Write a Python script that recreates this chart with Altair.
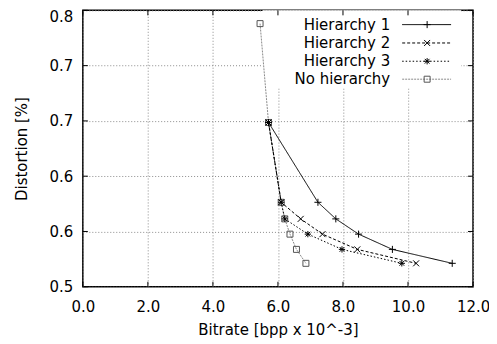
import altair as alt
import pandas as pd

# ---- data ----
series_names = ["Hierarchy 1", "Hierarchy 2", "Hierarchy 3", "No hierarchy"]

h1_bitrate = [5.71, 7.23, 7.78, 8.48, 9.52, 11.36]
h1_dist = [0.6486, 0.5764, 0.5614, 0.5476, 0.5338, 0.5212]

h2_bitrate = [5.71, 6.10, 6.70, 7.37, 8.44, 10.25]
h2_dist = [0.6486, 0.5764, 0.5614, 0.5476, 0.5338, 0.5212]

h3_bitrate = [5.71, 6.10, 6.21, 6.92, 7.97, 9.81]
h3_dist = [0.6486, 0.5764, 0.5614, 0.5476, 0.5338, 0.5212]

nh_bitrate = [5.45, 5.71, 6.10, 6.21, 6.37, 6.57, 6.86]
nh_dist = [0.738, 0.6486, 0.5764, 0.5614, 0.5476, 0.5338, 0.5212]

x_ticks = [0, 2, 4, 6, 8, 10, 12]
y_ticks = [0.5, 0.55, 0.6, 0.65, 0.7, 0.75]

FONT = "DejaVu Sans"
W, H = 391, 277

xs = alt.Scale(domain=[0, 12], nice=False, zero=False)
ys = alt.Scale(domain=[0.5, 0.75], nice=False, zero=False)

x_axis = alt.Axis(values=x_ticks, format=".1f", title="Bitrate [bpp x 10^-3]",
                  labelPadding=13, titlePadding=8, labelFlush=False)
y_axis = alt.Axis(values=y_ticks, format=".1f", title="Distortion [%]",
                  labelPadding=10, titlePadding=20, labelFlush=False,
                  labelOffset={"condition": {"test": "datum.value > 0.74", "value": 6},
                               "value": 0})

one = pd.DataFrame({"a": [0]})

layers = []

# legend background (opaque key)
layers.append(alt.Chart(one).mark_rect(fill="white").encode(
    x=alt.value(180), x2=alt.value(379), y=alt.value(0), y2=alt.value(78)))

# inside ticks on all four sides
xt = pd.DataFrame({"bitrate": x_ticks})
yt = pd.DataFrame({"distortion": y_ticks})
tick_style = dict(color="black", strokeWidth=1)
layers.append(alt.Chart(xt).mark_rule(**tick_style).encode(
    x=alt.X("bitrate:Q", scale=xs, axis=x_axis), y=alt.value(H), y2=alt.value(H - 5)))
layers.append(alt.Chart(xt).mark_rule(**tick_style).encode(
    x=alt.X("bitrate:Q", scale=xs, axis=x_axis), y=alt.value(0), y2=alt.value(5)))
layers.append(alt.Chart(yt).mark_rule(**tick_style).encode(
    y=alt.Y("distortion:Q", scale=ys, axis=y_axis), x=alt.value(0), x2=alt.value(5)))
layers.append(alt.Chart(yt).mark_rule(**tick_style).encode(
    y=alt.Y("distortion:Q", scale=ys, axis=y_axis), x=alt.value(W), x2=alt.value(W - 5)))

plus = "M-1,0H1M0,-1V1"
cross = "M-1,-1L1,1M-1,1L1,-1"
star = "M-1,0H1M0,-1V1M-0.75,-0.75L0.75,0.75M-0.75,0.75L0.75,-0.75"
square = "M-1,-1H1V1H-1Z"

styles = [
    dict(color="black", dash=[1, 0], shape=plus, mcolor="black", size=50),
    dict(color="black", dash=[3, 2], shape=cross, mcolor="black", size=36),
    dict(color="black", dash=[1.5, 2], shape=star, mcolor="black", size=40),
    dict(color="#8a8a8a", dash=[2, 1], shape=square, mcolor="#555555", size=36),
]
data = [
    (h1_bitrate, h1_dist),
    (h2_bitrate, h2_dist),
    (h3_bitrate, h3_dist),
    (nh_bitrate, nh_dist),
]

# draw no-hierarchy first so the others are on top
for idx in [3, 2, 1, 0]:
    bx, dy = data[idx]
    st = styles[idx]
    df = pd.DataFrame({"bitrate": bx, "distortion": dy})
    enc = dict(x=alt.X("bitrate:Q", scale=xs, axis=x_axis),
               y=alt.Y("distortion:Q", scale=ys, axis=y_axis))
    layers.append(alt.Chart(df).mark_line(
        color=st["color"], strokeDash=st["dash"], strokeWidth=1).encode(**enc))
    layers.append(alt.Chart(df).mark_point(
        shape=st["shape"], filled=False, stroke=st["mcolor"], strokeWidth=1,
        size=st["size"], opacity=1).encode(**enc))

# gnuplot-style key (text, then line sample with marker)
legend_y = [14.3, 32.7, 51, 69]
for i, name in enumerate(series_names):
    st = styles[i]
    yc = legend_y[i]
    layers.append(alt.Chart(one).mark_text(
        align="right", baseline="middle", font=FONT, fontSize=15, color="black").encode(
        x=alt.value(308), y=alt.value(yc), text=alt.value(name)))
    layers.append(alt.Chart(one).mark_rule(
        color=st["color"], strokeDash=st["dash"], strokeWidth=1).encode(
        x=alt.value(320), x2=alt.value(369), y=alt.value(yc)))
    layers.append(alt.Chart(one).mark_point(
        shape=st["shape"], filled=False, stroke=st["mcolor"], strokeWidth=1,
        size=st["size"], opacity=1).encode(x=alt.value(345), y=alt.value(yc)))

chart = alt.layer(*layers).properties(
    width=W, height=H,
    autosize=alt.AutoSizeParams(type="none"),
    padding={"left": 75, "top": 2, "right": 16, "bottom": 54},
).configure_axis(
    labelFont=FONT, labelFontSize=15, labelColor="black",
    titleFont=FONT, titleFontSize=15, titleFontWeight="normal", titleColor="black",
    grid=True, gridColor="#8c8c8c", gridDash=[1, 2], gridWidth=1, gridOpacity=1,
    ticks=False, domain=False,
).configure_view(stroke="black", strokeWidth=1.5)

chart.save("out.html", embed_options={"renderer": "svg", "actions": False})
